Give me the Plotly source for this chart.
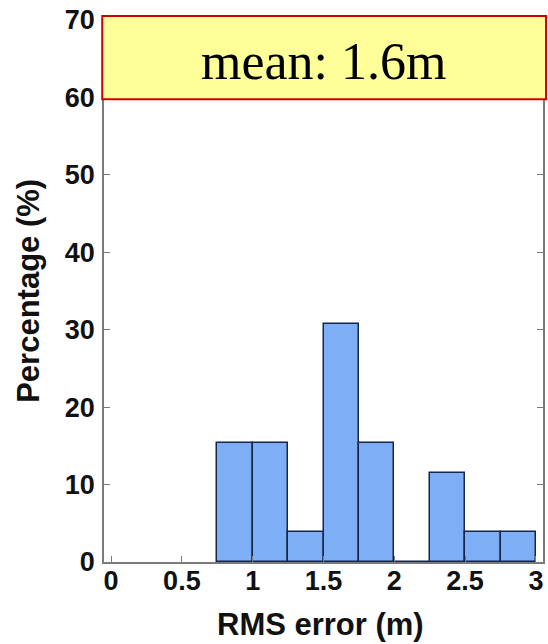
import plotly.graph_objects as go

bin_centers = [0.875, 1.125, 1.375, 1.625, 1.875, 2.125, 2.375, 2.625, 2.875]
percentages = [15.38, 15.38, 3.85, 30.77, 15.38, 0.0, 11.54, 3.85, 3.85]
x_ticks = [0, 0.5, 1, 1.5, 2, 2.5, 3]
x_tick_labels = ["0", "0.5", "1", "1.5", "2", "2.5", "3"]
y_ticks = [0, 10, 20, 30, 40, 50, 60, 70]
mean_label = "mean: 1.6m"
x_title = "RMS error (m)"
y_title = "Percentage (%)"

fig = go.Figure()
fig.add_trace(go.Bar(
    x=bin_centers, y=percentages, width=0.25,
    marker=dict(color="#7eaef5", line=dict(color="#15264a", width=1.5)),
))

tick_font = dict(family="Liberation Sans, Arial", size=27, color="#111111", weight="bold")
axis_common = dict(
    showline=True, linecolor="#7a7a7a", linewidth=1.5, mirror="ticks",
    ticks="inside", ticklen=6, tickcolor="#7a7a7a", tickwidth=1,
    showgrid=False, zeroline=False, tickfont=tick_font, automargin=False,
)

fig.update_layout(
    width=548, height=644,
    margin=dict(l=104, r=5, t=20, b=82),
    paper_bgcolor="white", plot_bgcolor="white",
    showlegend=False, bargap=0,
    xaxis=dict(range=[-0.05, 3.05], tickvals=x_ticks, ticktext=x_tick_labels,
               ticklabelstandoff=-6, **axis_common),
    yaxis=dict(range=[0, 70], tickvals=y_ticks, ticklabelstandoff=2, **axis_common),
)

title_font = dict(family="Liberation Sans, Arial", size=31, color="#111111", weight="bold")
fig.add_annotation(xref="paper", yref="paper", x=0.493, y=-0.1162, text=x_title,
                   showarrow=False, xanchor="center", yanchor="middle", font=title_font)
fig.add_annotation(xref="paper", yref="paper", x=-0.1735, y=0.50, text=y_title, textangle=-90,
                   showarrow=False, xanchor="center", yanchor="middle", font=title_font)

fig.add_shape(type="rect", xref="paper", yref="paper", x0=-0.004, x1=1.007, y0=0.854, y1=1.0074,
              fillcolor="#ffff99", line=dict(color="#cc0000", width=2), layer="above")
fig.add_annotation(xref="paper", yref="paper", x=0.502, y=0.923, text=mean_label, showarrow=False,
                   xanchor="center", yanchor="middle",
                   font=dict(family="Liberation Serif, Times New Roman", size=52, color="black"))

fig.write_html("out.html", config={"displayModeBar": False},
               post_script="document.body.style.margin='0px';")
